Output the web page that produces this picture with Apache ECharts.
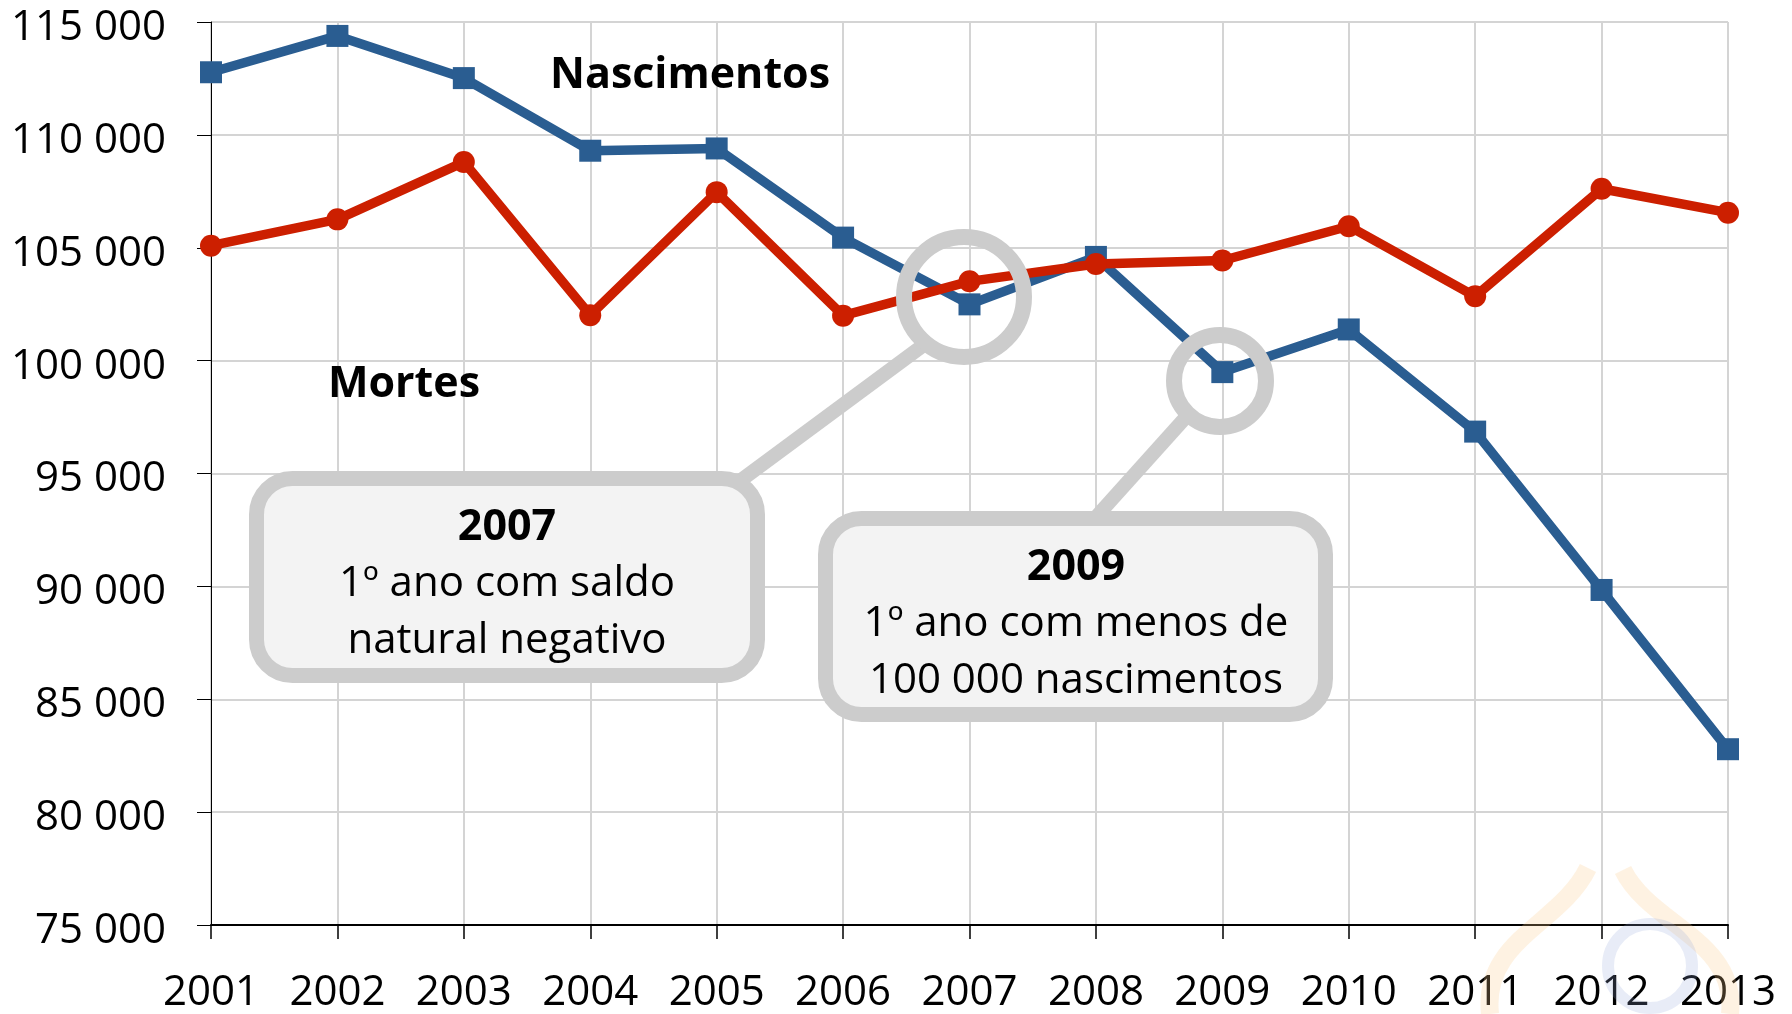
<!DOCTYPE html>
<html>
<head>
<meta charset="utf-8">
<script src="https://cdn.jsdelivr.net/npm/echarts@6/dist/echarts.min.js"></script>
<style>
    html, body { margin: 0; padding: 0; background: #fff; }
    #chart { width: 1792px; height: 1014px; }
</style>
</head>
<body>
<div id="chart"></div>
<script>
    var anos = ['2001', '2002', '2003', '2004', '2005', '2006', '2007', '2008', '2009', '2010', '2011', '2012', '2013'];
    var nascimentos = [112774, 114383, 112515, 109298, 109399, 105449, 102492, 104594, 99491, 101381, 96856, 89841, 82787];
    var mortes = [105092, 106258, 108795, 102012, 107464, 101990, 103512, 104280, 104434, 105954, 102848, 107612, 106554];
    var yMin = 75000, yMax = 115000, yStep = 5000;

    var FONT = '"Open Sans", "Noto Sans", sans-serif';
    var CINZA = '#cccccc';

    // 115000 -> "115 000"
    function milhares(v) {
        return '{v|' + String(v).replace(/\B(?=(\d{3})+(?!\d))/g, ' ') + '}';
    }

    function texto(t, x, y, bold) {
        return {
            type: 'text', z: 120,
            style: {
                text: t, x: x, y: y + 3.5,
                align: 'center', verticalAlign: 'middle',
                fontFamily: FONT, fontSize: bold ? 43 : 42,
                fontWeight: bold ? 'bold' : 'normal',
                fill: '#000'
            }
        };
    }

    function caixa(x, y, w, h) {
        return {
            type: 'rect', z: 110,
            shape: { x: x, y: y, width: w, height: h, r: 36 },
            style: { fill: '#f3f3f3', stroke: CINZA, lineWidth: 15 }
        };
    }

    function anel(cx, cy, r) {
        return {
            type: 'circle', z: 115,
            shape: { cx: cx, cy: cy, r: r },
            style: { fill: 'none', stroke: CINZA, lineWidth: 16 }
        };
    }

    function ligacao(x1, y1, x2, y2) {
        return {
            type: 'line', z: 105,
            shape: { x1: x1, y1: y1, x2: x2, y2: y2 },
            style: { stroke: CINZA, lineWidth: 14 }
        };
    }

    var option = {
        backgroundColor: '#fff',
        animation: false,
        grid: { left: 211, right: 64, top: 22, bottom: 85 },
        xAxis: {
            type: 'category',
            data: anos,
            boundaryGap: false,
            axisLine: { lineStyle: { color: '#000', width: 2 } },
            axisTick: { show: true, length: 14, lineStyle: { color: '#000', width: 1.5 } },
            axisLabel: { color: '#000', fontFamily: FONT, fontSize: 42, margin: 47 },
            splitLine: { show: true, lineStyle: { color: '#d4d4d4', width: 2 } }
        },
        yAxis: {
            type: 'value',
            min: yMin, max: yMax, interval: yStep,
            axisLine: { show: true, lineStyle: { color: '#000', width: 1 } },
            axisTick: { show: true, length: 14, lineStyle: { color: '#000', width: 1 } },
            axisLabel: {
                color: '#000', fontFamily: FONT, fontSize: 42, margin: 45,
                formatter: milhares,
                rich: {
                    v: { color: '#000', fontFamily: FONT, fontSize: 42, padding: [12, 0, 0, 0] }
                }
            },
            splitLine: { show: true, lineStyle: { color: '#d4d4d4', width: 2 } }
        },
        series: [{
            name: 'Nascimentos',
            type: 'line',
            data: nascimentos,
            symbol: 'rect',
            symbolSize: 22,
            lineStyle: { color: '#2a5d91', width: 9.5 },
            itemStyle: { color: '#2a5d91' },
            z: 3
        }, {
            name: 'Mortes',
            type: 'line',
            data: mortes,
            symbol: 'circle',
            symbolSize: 22,
            lineStyle: { color: '#cc1f00', width: 9.5 },
            itemStyle: { color: '#cc1f00' },
            z: 4
        }],
        graphic: [
            // marca de água (logótipo esbatido)
            {
                type: 'bezierCurve', z: 1, silent: true,
                shape: { x1: 1588, y1: 868, cpx1: 1560, cpy1: 925, cpx2: 1482, cpy2: 940, x2: 1490, y2: 1014 },
                style: { stroke: 'rgba(253,205,140,0.25)', lineWidth: 18, fill: 'none' }
            },
            {
                type: 'bezierCurve', z: 1, silent: true,
                shape: { x1: 1623, y1: 870, cpx1: 1650, cpy1: 925, cpx2: 1738, cpy2: 940, x2: 1730, y2: 1014 },
                style: { stroke: 'rgba(253,205,140,0.25)', lineWidth: 18, fill: 'none' }
            },
            {
                type: 'circle', z: 1, silent: true,
                shape: { cx: 1650, cy: 966, r: 42 },
                style: { stroke: 'rgba(150,170,220,0.22)', lineWidth: 12, fill: 'none' }
            },
            // anotações
            ligacao(925, 344, 725, 492),
            ligacao(1186, 417, 1088, 526),
            caixa(256.5, 478.5, 501, 197),
            caixa(825.5, 518.5, 500, 196),
            anel(964, 297, 60),
            anel(1220, 381, 46),
            texto('2007', 507, 524, true),
            texto('1º ano com saldo', 507, 581),
            texto('natural negativo', 507, 638),
            texto('2009', 1076, 564, true),
            texto('1º ano com menos de', 1076, 621),
            texto('100 000 nascimentos', 1076, 678),
            texto('Nascimentos', 690, 72, true),
            texto('Mortes', 404, 381, true)
        ]
    };

    var chart = echarts.init(document.getElementById('chart'));
    chart.setOption(option);
</script>
</body>
</html>
